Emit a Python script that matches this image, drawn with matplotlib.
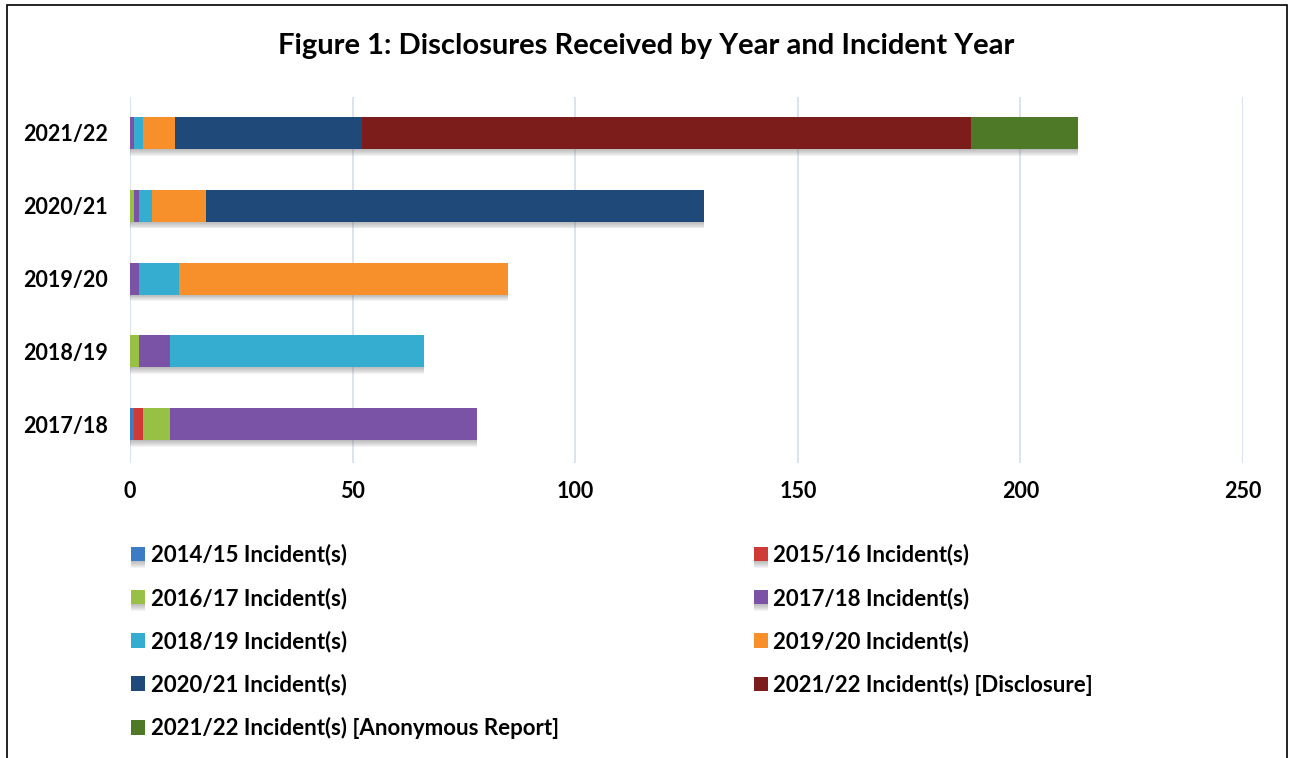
import matplotlib
matplotlib.use("Agg")
from matplotlib import pyplot as plt
from matplotlib import patheffects as pe
from matplotlib.patches import Rectangle
import numpy as np

plt.rcParams['font.family'] = ['Lato', 'DejaVu Sans']
plt.rcParams['font.weight'] = 'bold'

years = ["2017/18", "2018/19", "2019/20", "2020/21", "2021/22"]

series_names = [
    "2014/15 Incident(s)",
    "2015/16 Incident(s)",
    "2016/17 Incident(s)",
    "2017/18 Incident(s)",
    "2018/19 Incident(s)",
    "2019/20 Incident(s)",
    "2020/21 Incident(s)",
    "2021/22 Incident(s) [Disclosure]",
    "2021/22 Incident(s) [Anonymous Report]",
]

# values per disclosure year (2017/18 .. 2021/22)
inc_1415 = [1, 0, 0, 0, 0]
inc_1516 = [2, 0, 0, 0, 0]
inc_1617 = [6, 2, 0, 1, 0]
inc_1718 = [69, 7, 2, 1, 1]
inc_1819 = [0, 57, 9, 3, 2]
inc_1920 = [0, 0, 74, 12, 7]
inc_2021 = [0, 0, 0, 112, 42]
inc_2122_disc = [0, 0, 0, 0, 137]
inc_2122_anon = [0, 0, 0, 0, 24]

series = [inc_1415, inc_1516, inc_1617, inc_1718, inc_1819,
          inc_1920, inc_2021, inc_2122_disc, inc_2122_anon]

colors = ["#3C7CC4", "#CF3A36", "#97C044", "#7B53A6", "#35ADD1",
          "#F7902B", "#1F4979", "#7C1D1C", "#4E7A27"]

fig = plt.figure(figsize=(12.92, 7.58), dpi=100)
ax = fig.add_axes([130 / 1292, 295 / 758, 1113 / 1292, 366 / 758])

y = np.arange(len(years))
left = np.zeros(len(years))
# soft shadow under the bars: stacked faint offsets
shadow = [pe.SimplePatchShadow(offset=(0, -0.7 * k), shadow_rgbFace="#707070", alpha=0.08)
          for k in range(1, 8)] + [pe.Normal()]
handles = []
for name, vals, c in zip(series_names, series, colors):
    vals = np.array(vals, dtype=float)
    bars = ax.barh(y, vals, left=left, height=0.44, color=c, label=name, zorder=3)
    for b in bars:
        if b.get_width() > 0:
            b.set_path_effects(shadow)
    handles.append(bars)
    left += vals

ax.set_xlim(0, 250)
ax.set_ylim(-0.53, 4.49)
ax.set_xticks(range(0, 251, 50))
ax.set_yticks(y)
ax.set_yticklabels(years)
ax.grid(axis="x", color="#D5DEEC", linewidth=1.2, zorder=0)
for s in ax.spines.values():
    s.set_visible(False)
ax.tick_params(axis="both", length=0, labelsize=15.5)
ax.tick_params(axis="x", pad=13)
ax.tick_params(axis="y", pad=16)

fig.text(0.5, 1 - 46 / 758, "Figure 1: Disclosures Received by Year and Incident Year",
         ha="center", va="center", fontsize=21, fontweight="bold")

order = [0, 2, 4, 6, 8, 1, 3, 5, 7]
leg = fig.legend([handles[i] for i in order], [series_names[i] for i in order],
                 ncol=2, loc="upper left", bbox_to_anchor=(131 / 1292, 1 - 544 / 758),
                 frameon=False, fontsize=16, handlelength=0.63, handleheight=0.63,
                 handletextpad=0.25, labelspacing=0.97, columnspacing=8.77,
                 borderpad=0, borderaxespad=0)

# outer frame
fig.patches.append(Rectangle((7 / 1292, -0.01), 1280 / 1292, 1.0 - 5 / 758 + 0.01,
                             transform=fig.transFigure, fill=False,
                             edgecolor="black", linewidth=1.2))

fig.savefig("out.png", dpi=100)
